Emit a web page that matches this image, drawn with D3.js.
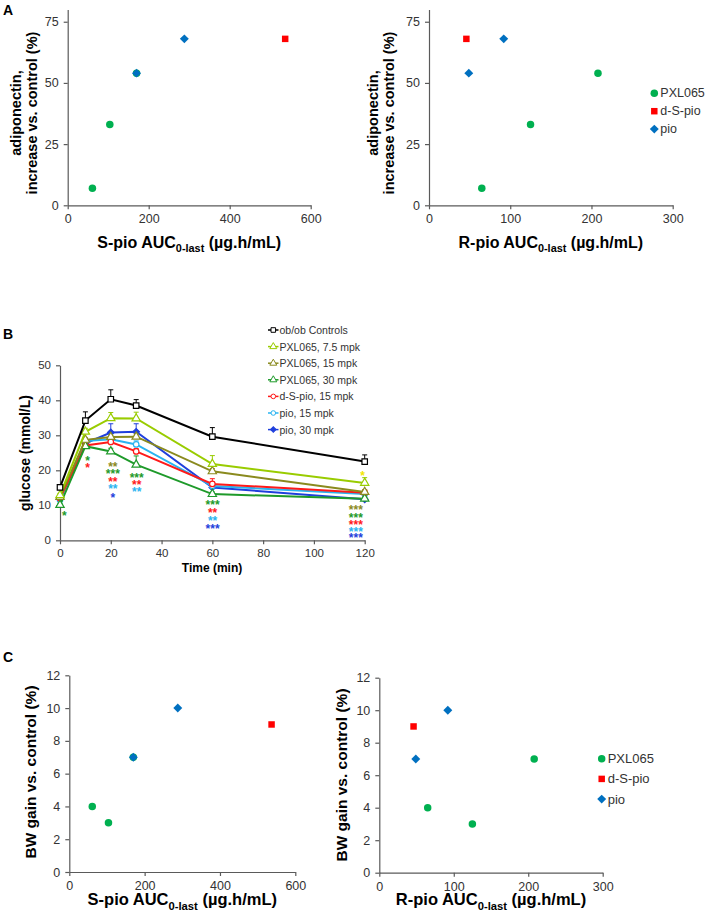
<!DOCTYPE html>
<html><head><meta charset="utf-8">
<script src="https://cdn.jsdelivr.net/npm/d3@7"></script>
<style>
html,body{margin:0;padding:0;background:#fff;}
svg{display:block;font-family:Arial,"Liberation Sans",sans-serif;}
</style></head>
<body>
<svg id="fig" width="709" height="920"></svg>
<script>
// ---------- DATA ----------
const groupNames = ["PXL065", "d-S-pio", "pio"];
const groupColors = ["#00b050", "#ff0000", "#0070c0"];
// S-pio / R-pio AUC0-last per dose group
const pxlS = [61, 104, 170], pxlR = [65, 125, 208];
const dsS = [537], dsR = [46];
const pioS = [170, 288], pioR = [49, 92];
// adiponectin increase vs control (%)
const pxlAdipo = [7, 33, 54], dsAdipo = [68], pioAdipo = [54, 68];
// body weight gain vs control (%)
const pxlBW = [4, 3, 7], dsBW = [9], pioBW = [7, 10];

const adipoTicks = [0, 25, 50, 75];
const bwTicks = [0, 2, 4, 6, 8, 10, 12];
const sTicks = [0, 200, 400, 600];
const rTicks = [0, 100, 200, 300];

// Panel B: OGTT glucose
const times = [0, 10, 20, 30, 60, 120];
const timeTicks = [0, 20, 40, 60, 80, 100, 120];
const glucoseTicks = [0, 10, 20, 30, 40, 50];
const seriesNames = ["ob/ob Controls", "PXL065, 7.5 mpk", "PXL065, 15 mpk", "PXL065, 30 mpk", "d-S-pio, 15 mpk", "pio, 15 mpk", "pio, 30 mpk"];
const seriesColors = ["#000000", "#99cc00", "#8a8a1e", "#1e9a2a", "#ff1a1a", "#2ab4f0", "#1f3fdc"];
const seriesSymbols = ["square", "triangle", "triangle", "triangle", "circle", "circle", "diamond"];
const gControl = [15.1, 34.2, 40.3, 38.5, 29.6, 22.5];
const gPxl75 = [12.9, 31.0, 34.9, 34.8, 21.8, 16.4];
const gPxl15 = [12.4, 28.7, 29.5, 29.6, 19.7, 13.8];
const gPxl30 = [10.1, 26.9, 25.4, 21.6, 13.2, 11.9];
const gDs15 = [12.0, 27.1, 28.1, 25.4, 16.1, 13.6];
const gPio15 = [11.5, 28.4, 28.9, 27.4, 15.5, 13.2];
const gPio30 = [12.0, 27.7, 30.8, 31.0, 15.1, 11.7];
const eControl = [0.8, 2.5, 2.7, 1.7, 2.6, 1.9];
const ePxl75 = [0.5, 1.0, 1.6, 1.8, 2.4, 1.5];
const ePxl15 = [0.5, 0.6, 0.6, 0.8, 0.8, 0.6];
const ePxl30 = [0.4, 0.5, 0.9, 2.5, 0.6, 0.5];
const eDs15 = [0.5, 0.6, 1.0, 0.8, 1.5, 0.8];
const ePio15 = [0.5, 0.8, 1.0, 1.0, 0.9, 0.7];
const ePio30 = [0.5, 0.8, 2.5, 2.3, 0.8, 0.5];
// significance stars: time, glucose level, series index, label
const starT = [1.7, 10.9, 10.9, 20.8, 20.8, 20.8, 20.8, 20.8, 30.2, 30.2, 30.2, 60.1, 60.1, 60.1, 60.1, 116.5, 116.5, 116.5, 116.5, 116.5, 119.2];
const starV = [7.6, 23.4, 21.3, 21.8, 19.6, 17.4, 15.3, 12.9, 18.4, 16.5, 14.4, 10.7, 8.5, 6.2, 3.9, 9.5, 7.2, 5.1, 3.2, 1.4, 19.0];
const starS = [3, 3, 4, 2, 3, 4, 5, 6, 3, 4, 5, 3, 4, 5, 6, 2, 3, 4, 5, 6, 1];
const starL = ["*", "*", "*", "**", "***", "**", "**", "*", "***", "**", "**", "***", "**", "**", "***", "***", "***", "***", "***", "***", "*"];

// ---------- DRAW ----------
const svg = d3.select("#fig");
const AX = "#5a5a5a", TXT = "#333333";
const diamondPath = s => d3.symbol(d3.symbolSquare, s)();

function styleAxis(g) {
  g.selectAll("path.domain").attr("stroke", AX).attr("stroke-width", 1.2);
  g.selectAll(".tick line").attr("stroke", AX).attr("stroke-width", 1.2);
  g.selectAll(".tick text").attr("fill", TXT).style("font-family", "Arial, 'Liberation Sans', sans-serif");
}

function auctitle(g, x, y, prefix, size) {
  const t = g.append("text").attr("x", x).attr("y", y).attr("text-anchor", "middle")
    .attr("font-weight", "bold").attr("font-size", size).attr("fill", "#000");
  t.append("tspan").text(prefix + " AUC");
  t.append("tspan").attr("font-size", size * 0.68).attr("dy", size * 0.28).text("0-last");
  t.append("tspan").attr("dy", -size * 0.28).text(" (µg.h/mL)");
}

function marker(g, k, px, py, scale) {
  const sizes = [44, 42, 40];
  if (k === 2) {
    return g.append("path").attr("d", diamondPath(sizes[2] * scale))
      .attr("transform", `translate(${px},${py}) rotate(45)`).attr("fill", groupColors[2]);
  }
  return g.append("path").attr("d", d3.symbol(k === 0 ? d3.symbolCircle : d3.symbolSquare, sizes[k] * scale)())
    .attr("transform", `translate(${px},${py})`).attr("fill", groupColors[k]);
}

function scatterPanel(opt) {
  const x = d3.scaleLinear().domain(opt.xdom).range([opt.x0, opt.x1]);
  const y = d3.scaleLinear().domain(opt.ydom).range([opt.y0, opt.y1]);
  const g = svg.append("g");
  const gx = g.append("g").attr("transform", `translate(0,${opt.y0})`)
    .call(d3.axisBottom(x).tickValues(opt.xticks).tickSize(4).tickSizeOuter(0).tickPadding(5));
  gx.selectAll(".tick text").attr("font-size", opt.tf);
  styleAxis(gx);
  const gy = g.append("g").attr("transform", `translate(${opt.x0},0)`)
    .call(d3.axisLeft(y).tickValues(opt.yticks).tickSize(4).tickSizeOuter(0).tickPadding(5));
  gy.selectAll(".tick text").attr("font-size", opt.tf);
  styleAxis(gy);
  const groups = [
    {xs: opt.pxl, ys: opt.pxlY, k: 0},
    {xs: opt.ds, ys: opt.dsY, k: 1},
    {xs: opt.pio, ys: opt.pioY, k: 2}
  ];
  groups.forEach(gr => {
    gr.xs.forEach((v, i) => marker(g, gr.k, x(v), y(gr.ys[i]), 1));
  });
  opt.ytitle.forEach((line, i) => {
    g.append("text").attr("transform", `translate(${opt.ytx[i]},${opt.yty}) rotate(-90)`)
      .attr("text-anchor", "middle").attr("dominant-baseline", "central")
      .attr("font-weight", "bold").attr("font-size", opt.ytf).attr("fill", "#000").text(line);
  });
  auctitle(g, (opt.x0 + opt.x1) / 2, opt.xty, opt.prefix, opt.xtf);
  if (opt.legend) {
    const L = opt.legend;
    groupNames.forEach((n, i) => {
      const yy = L.y + i * L.dy;
      marker(g, i, L.x, yy, 1);
      g.append("text").attr("x", L.x + 6).attr("y", yy).attr("dominant-baseline", "central")
        .attr("font-size", L.f).attr("fill", TXT).text(n);
    });
  }
}

// Panel A
scatterPanel({x0: 67.7, x1: 310.7, y0: 205.3, y1: 9.5, xdom: [0, 600], ydom: [0, 80], xticks: sTicks, yticks: adipoTicks, tf: 12.5,
  pxl: pxlS, pxlY: pxlAdipo, ds: dsS, dsY: dsAdipo, pio: pioS, pioY: pioAdipo,
  ytitle: ["adiponectin,", "increase vs. control (%)"], ytx: [16, 32], yty: 113, ytf: 14.5,
  prefix: "S-pio", xty: 248, xtf: 16});
scatterPanel({x0: 429, x1: 672.7, y0: 205.3, y1: 9.5, xdom: [0, 300], ydom: [0, 80], xticks: rTicks, yticks: adipoTicks, tf: 12.5,
  pxl: pxlR, pxlY: pxlAdipo, ds: dsR, dsY: dsAdipo, pio: pioR, pioY: pioAdipo,
  ytitle: ["adiponectin,", "increase vs. control (%)"], ytx: [372.5, 389], yty: 113, ytf: 14.5,
  prefix: "R-pio", xty: 248, xtf: 16, legend: {x: 654.3, y: 93.3, dy: 17.9, f: 12.5}});
// Panel C
scatterPanel({x0: 69.3, x1: 295.3, y0: 872, y1: 675.3, xdom: [0, 600], ydom: [0, 12], xticks: sTicks, yticks: bwTicks, tf: 12.5,
  pxl: pxlS, pxlY: pxlBW, ds: dsS, dsY: dsBW, pio: pioS, pioY: pioBW,
  ytitle: ["BW gain vs. control (%)"], ytx: [30], yty: 772, ytf: 15.5,
  prefix: "S-pio", xty: 905, xtf: 16.5});
scatterPanel({x0: 379.3, x1: 602.7, y0: 872.7, y1: 677.7, xdom: [0, 300], ydom: [0, 12], xticks: rTicks, yticks: bwTicks, tf: 12.5,
  pxl: pxlR, pxlY: pxlBW, ds: dsR, dsY: dsBW, pio: pioR, pioY: pioBW,
  ytitle: ["BW gain vs. control (%)"], ytx: [341.5], yty: 775, ytf: 15.5,
  prefix: "R-pio", xty: 905, xtf: 16.5, legend: {x: 601.7, y: 758.7, dy: 20.2, f: 13}});

// Panel B
(function () {
  const x = d3.scaleLinear().domain([0, 120]).range([60, 364.7]);
  const y = d3.scaleLinear().domain([0, 50]).range([540.3, 365.3]);
  const g = svg.append("g");
  const gx = g.append("g").attr("transform", "translate(0,540.3)")
    .call(d3.axisBottom(x).tickValues(timeTicks).tickSize(4).tickSizeOuter(0).tickPadding(5));
  gx.selectAll(".tick text").attr("font-size", 11.5);
  styleAxis(gx);
  const gy = g.append("g").attr("transform", "translate(60,0)")
    .call(d3.axisLeft(y).tickValues(glucoseTicks).tickSize(4).tickSizeOuter(0).tickPadding(5));
  gy.selectAll(".tick text").attr("font-size", 11.5);
  styleAxis(gy);
  g.append("text").attr("transform", "translate(25,453) rotate(-90)").attr("text-anchor", "middle")
    .attr("dominant-baseline", "central").attr("font-weight", "bold").attr("font-size", 14).text("glucose (mmol/L)");
  g.append("text").attr("x", 212).attr("y", 572).attr("text-anchor", "middle")
    .attr("font-weight", "bold").attr("font-size", 12).text("Time (min)");

  const vals = [gControl, gPxl75, gPxl15, gPxl30, gDs15, gPio15, gPio30];
  const errs = [eControl, ePxl75, ePxl15, ePxl30, eDs15, ePio15, ePio30];
  const symMap = {square: d3.symbolSquare, triangle: d3.symbolTriangle, circle: d3.symbolCircle};
  const symSize = {square: 30, triangle: 30, circle: 24, diamond: 22};
  const symbolD = (sym, k) => sym === "diamond" ? diamondPath(symSize.diamond * k) : d3.symbol(symMap[sym], symSize[sym] * k)();
  const rot = sym => sym === "diamond" ? " rotate(45)" : "";
  const line = d3.line().x((d, i) => x(times[i])).y(d => y(d));
  for (let s = vals.length - 1; s >= 0; s--) {
    const c = seriesColors[s];
    const sg = g.append("g");
    vals[s].forEach((v, i) => {
      const xx = x(times[i]), y0 = y(v), y1 = y(v + errs[s][i]);
      sg.append("line").attr("x1", xx).attr("x2", xx).attr("y1", y0).attr("y2", y1).attr("stroke", c).attr("stroke-width", 1);
      sg.append("line").attr("x1", xx - 2.5).attr("x2", xx + 2.5).attr("y1", y1).attr("y2", y1).attr("stroke", c).attr("stroke-width", 1);
    });
    sg.append("path").datum(vals[s]).attr("d", line).attr("fill", "none").attr("stroke", c).attr("stroke-width", 2);
    const sym = seriesSymbols[s];
    sg.selectAll(null).data(vals[s]).enter().append("path")
      .attr("d", symbolD(sym, 1))
      .attr("transform", (d, i) => `translate(${x(times[i])},${y(d)})${rot(sym)}`)
      .attr("fill", sym === "diamond" ? c : "#fff").attr("stroke", c).attr("stroke-width", 1.2);
  }
  // stars: one text per time column, one tspan per row
  const cols = Array.from(new Set(starT));
  cols.forEach(t => {
    const txt = g.append("text").attr("text-anchor", "middle").attr("font-size", 12).attr("font-weight", "bold");
    starT.forEach((tt, i) => {
      if (tt !== t) return;
      txt.append("tspan").attr("x", x(tt)).attr("y", y(starV[i]) + 6.5)
        .attr("fill", starS[i] === 1 ? "#f2e600" : seriesColors[starS[i]]).text(starL[i]);
    });
  });
  // legend
  seriesNames.forEach((n, i) => {
    const yy = 330 + i * 16.6;
    const c = seriesColors[i];
    g.append("line").attr("x1", 268).attr("x2", 278.5).attr("y1", yy).attr("y2", yy).attr("stroke", c).attr("stroke-width", 1.5);
    const sym = seriesSymbols[i];
    g.append("path").attr("d", symbolD(sym, 0.7))
      .attr("transform", `translate(273.3,${yy})${rot(sym)}`)
      .attr("fill", sym === "diamond" ? c : "#fff").attr("stroke", c).attr("stroke-width", 1);
    g.append("text").attr("x", 279.5).attr("y", yy).attr("dominant-baseline", "central")
      .attr("font-size", 10.5).attr("fill", TXT).text(n);
  });
})();

// panel letters
[["A", 8, 10], ["B", 8, 334], ["C", 8, 657]].forEach(d => {
  svg.append("text").attr("x", d[1]).attr("y", d[2]).attr("text-anchor", "middle").attr("dominant-baseline", "central")
    .attr("font-weight", "bold").attr("font-size", 14).text(d[0]);
});
</script>
</body></html>
